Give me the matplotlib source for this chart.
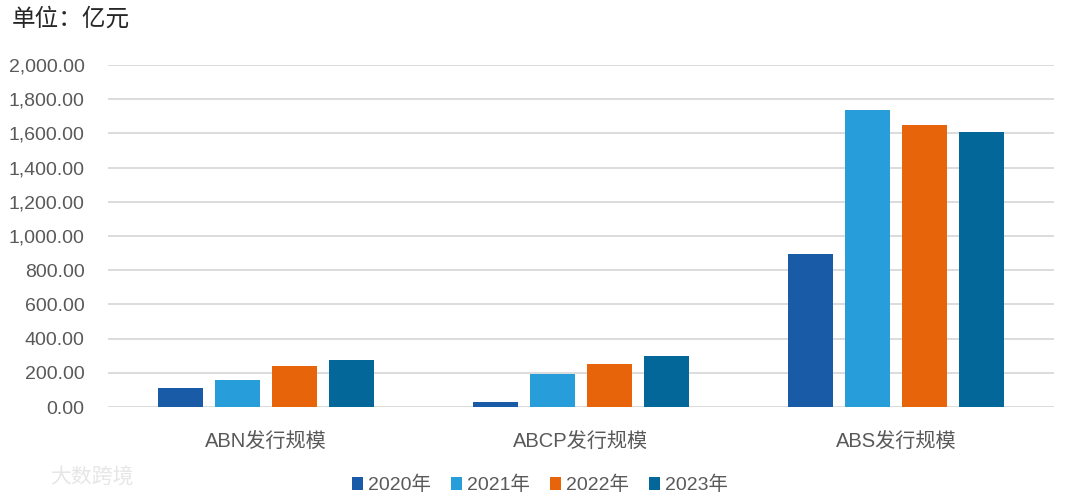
import numpy as np
import matplotlib.pyplot as plt
from matplotlib.ticker import FuncFormatter

plt.rcParams['font.family'] = ['Liberation Sans', 'Noto Sans CJK SC', 'DejaVu Sans']

categories = ['ABN发行规模', 'ABCP发行规模', 'ABS发行规模']
years = ['2020年', '2021年', '2022年', '2023年']
v2020 = [114, 27, 894]
v2021 = [156, 192, 1735]
v2022 = [240, 249, 1648]
v2023 = [273, 298, 1611]
series = [v2020, v2021, v2022, v2023]
colors = ['#1a5ba8', '#279dd9', '#e8640b', '#04679a']

fig = plt.figure(figsize=(10.65, 4.98), dpi=100)
ax = fig.add_axes([108 / 1065, 91 / 498, 946 / 1065, 342 / 498])

x = np.arange(len(categories))
width = 0.143
step = 0.181
for i, (vals, c) in enumerate(zip(series, colors)):
    ax.bar(x + (i - 1.5) * step, vals, width, color=c, label=years[i], zorder=3)

ax.set_xlim(-0.5, 2.5)
ax.set_ylim(0, 2000)
ax.set_yticks(np.arange(0, 2001, 200))
ax.yaxis.set_major_formatter(FuncFormatter(lambda v, p: f'{v:,.2f}'))
ax.grid(axis='y', color='#d9d9d9', linewidth=1.3, zorder=0)
for s in ax.spines.values():
    s.set_visible(False)
ax.tick_params(axis='both', length=0, labelsize=14, colors='#595959')
ax.tick_params(axis='y', pad=17)
ax.tick_params(axis='x', pad=18, labelsize=14.5)
ax.set_xticks(x)
ax.set_xticklabels(categories)

fig.text(12 / 1065, 1 - 19 / 498, '单位：亿元', fontsize=17, color='#262626',
         va='center', ha='left', family=['Noto Sans CJK SC', 'DejaVu Sans'])

leg = fig.legend(loc='center', bbox_to_anchor=(540 / 1065, 1 - 485 / 498), ncol=4,
                 frameon=False, fontsize=14, handlelength=0.6, handleheight=0.6,
                 handletextpad=0.25, columnspacing=1.0, labelcolor='#595959')

fig.text(50 / 1065, 1 - 478 / 498, '大数跨境', fontsize=15, color='#e6e6e6',
         va='center', ha='left', family=['Noto Sans CJK SC', 'DejaVu Sans'])

plt.savefig('out.png', dpi=100)
